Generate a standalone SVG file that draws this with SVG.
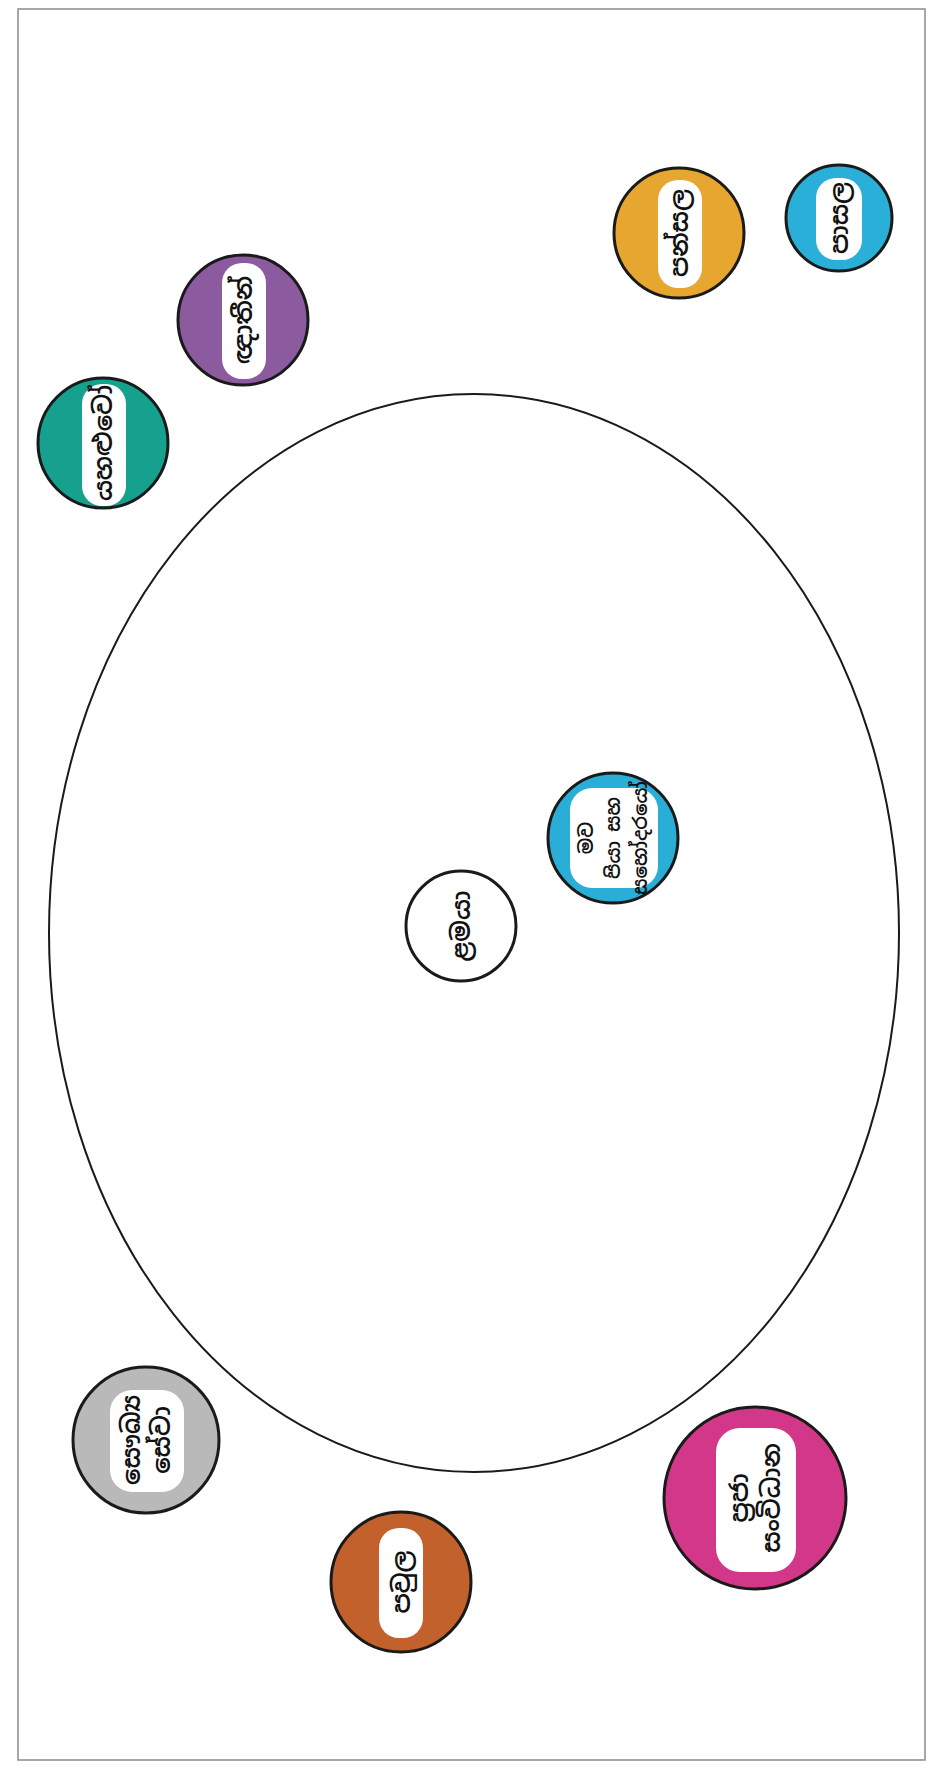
<svg xmlns="http://www.w3.org/2000/svg" width="942" height="1768" viewBox="0 0 942 1768">
<style>
.ring{stroke:#1a1a1a;stroke-width:3}
.blob{fill:#ffffff}
.lbl{font-family:"Noto Sans Sinhala","Noto Sans","DejaVu Sans",sans-serif;font-size:25px;font-weight:600;fill:#111;text-anchor:middle;dominant-baseline:central}
</style>
<rect x="0" y="0" width="942" height="1768" fill="#ffffff"/>
<rect x="18" y="9" width="907" height="1751" fill="none" stroke="#8a8a8a" stroke-width="1.5"/>
<g id="connectors"></g>
<g id="boundary">
<ellipse cx="474" cy="933" rx="425" ry="539" fill="none" stroke="#1a1a1a" stroke-width="2"/>
</g>
<g id="node-center">
<circle cx="461" cy="926" r="55" fill="#ffffff" class="ring" stroke-width="2.5"/>
<text class="lbl" transform="translate(461 926) rotate(-90)">ළමයා</text>
</g>
<g id="node-inner">
<circle cx="613" cy="838" r="65" fill="#2aadd6" class="ring"/>
<rect x="570" y="788" width="88" height="100" rx="22" class="blob"/>
<text class="lbl" transform="translate(613 838) rotate(-90)" style="font-size:19px"><tspan x="0" y="-27">මව</tspan><tspan x="0" y="0">පියා සහ</tspan><tspan x="0" y="27">සහෝදරයෝ</tspan></text>
</g>
<g id="node-teal">
<circle cx="103" cy="443" r="65" fill="#16a08e" class="ring"/>
<rect x="82" y="384" width="44" height="122" rx="20" class="blob"/>
<text class="lbl" transform="translate(103 443) rotate(-90)">යහළුවෝ</text>
</g>
<g id="node-purple">
<circle cx="243" cy="320" r="65" fill="#8b5a9f" class="ring"/>
<rect x="222" y="263" width="44" height="116" rx="20" class="blob"/>
<text class="lbl" transform="translate(243 320) rotate(-90)">ඥාතීන්</text>
</g>
<g id="node-orange">
<circle cx="679" cy="233" r="65" fill="#e6a630" class="ring"/>
<rect x="658" y="180" width="44" height="108" rx="20" class="blob"/>
<text class="lbl" transform="translate(679 233) rotate(-90)">පන්සල</text>
</g>
<g id="node-lightblue">
<circle cx="839" cy="218" r="53" fill="#29afd8" class="ring"/>
<rect x="816" y="178" width="46" height="82" rx="20" class="blob"/>
<text class="lbl" transform="translate(839 218) rotate(-90)">පාසල</text>
</g>
<g id="node-gray">
<circle cx="146" cy="1440" r="73" fill="#b9b9b9" class="ring"/>
<rect x="110" y="1390" width="74" height="102" rx="22" class="blob"/>
<text class="lbl" transform="translate(146 1440) rotate(-90)"><tspan x="0" y="-15">සෞඛ්‍ය</tspan><tspan x="0" y="15">සේවා</tspan></text>
</g>
<g id="node-brown">
<circle cx="401" cy="1582" r="70" fill="#c3612d" class="ring"/>
<rect x="379" y="1528" width="44" height="110" rx="20" class="blob"/>
<text class="lbl" transform="translate(401 1582) rotate(-90)">පවුල</text>
</g>
<g id="node-magenta">
<circle cx="755" cy="1498" r="91" fill="#d3378a" class="ring"/>
<rect x="716" y="1428" width="80" height="144" rx="24" class="blob"/>
<text class="lbl" transform="translate(755 1498) rotate(-90)"><tspan x="0" y="-16">ප්‍රජා</tspan><tspan x="0" y="16">සංවිධාන</tspan></text>
</g>
</svg>
